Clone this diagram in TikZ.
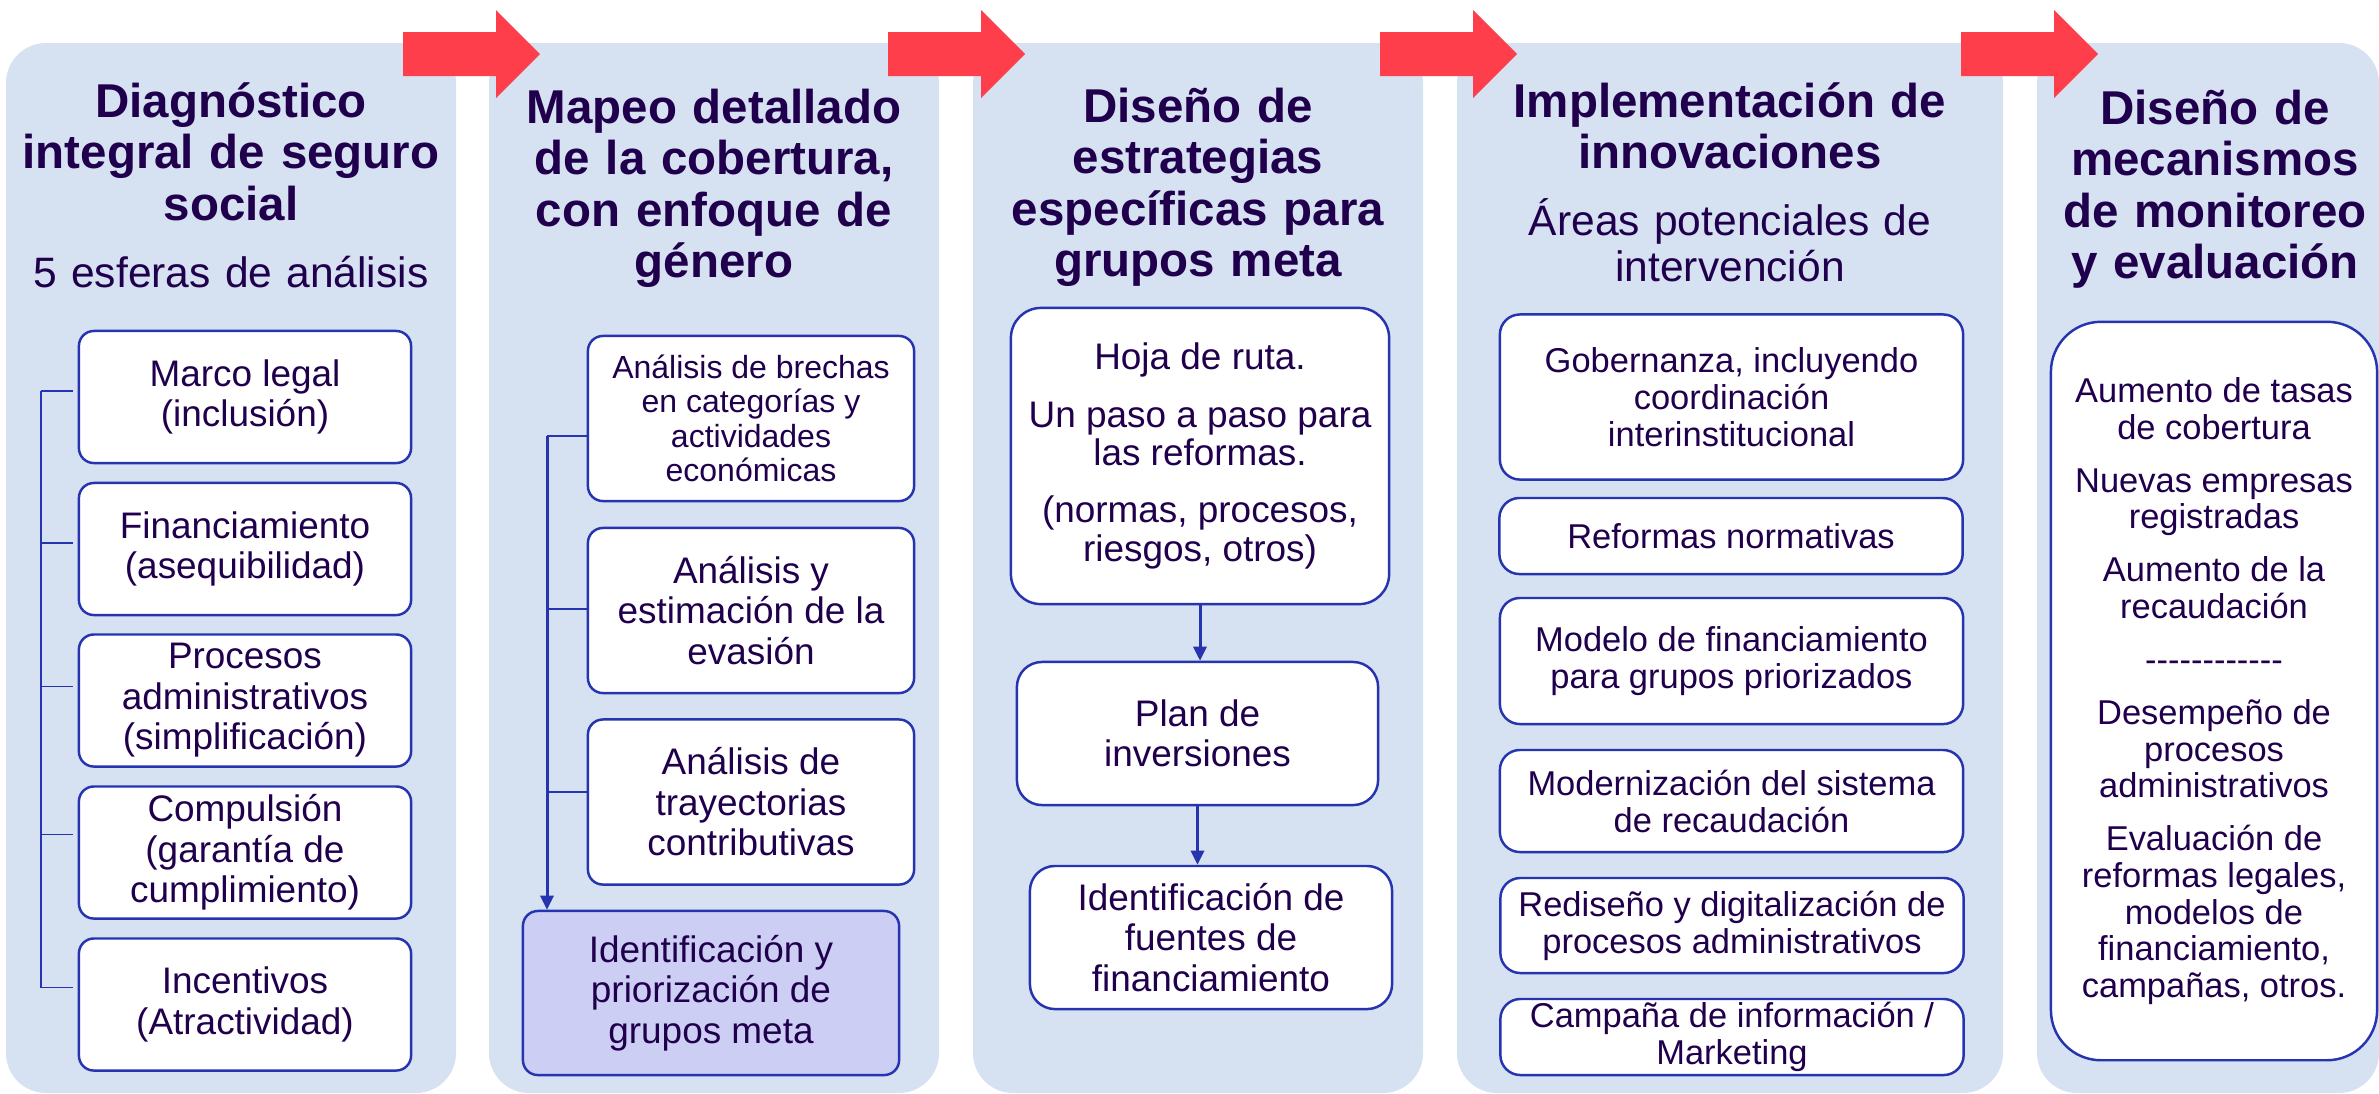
\documentclass[tikz,border=0pt]{standalone}
\usepackage{fontspec}
\setmainfont{Liberation Sans}
\usetikzlibrary{arrows.meta,positioning}

\definecolor{panelblue}{RGB}{214,225,241}
\definecolor{arrowred}{RGB}{254,62,74}
\definecolor{inkpurple}{RGB}{32,0,77}
\definecolor{lineblue}{RGB}{38,52,176}
\definecolor{lavender}{RGB}{204,206,244}

\newcommand{\dashrow}{\mbox{-}\mbox{-}\mbox{-}\mbox{-}\mbox{-}\mbox{-}\mbox{-}\mbox{-}\mbox{-}\mbox{-}\mbox{-}\mbox{-}}

\tikzset{
  panel/.style={fill=panelblue, rounded corners=0.4cm},
  redarrow/.style={fill=arrowred},
  heading/.style={anchor=base, align=center, inner sep=0pt, text=inkpurple,
    font=\fontsize{13.5}{14.65}\selectfont\bfseries},
  subheading/.style={anchor=base, align=center, inner sep=0pt, text=inkpurple,
    font=\fontsize{12.1}{13.1}\selectfont},
  itembox/.style={draw=lineblue, line width=0.7pt, fill=white, rounded corners=0.15cm,
    inner sep=0pt, align=center, text=inkpurple, font=\fontsize{10.5}{11.5}\selectfont},
  sphere/.style={itembox, minimum width=3.32cm, minimum height=1.32cm},
  mapbox/.style={itembox, minimum width=3.26cm, minimum height=1.65cm},
  areabox/.style={itembox, rounded corners=0.2cm, minimum width=4.63cm,
    font=\fontsize{9.8}{10.5}\selectfont},
  tick/.style={draw=lineblue, line width=0.45pt},
  flow/.style={draw=lineblue, line width=0.85pt, -{Triangle[width=0.13cm,length=0.14cm]}},
}

\begin{document}
\begin{tikzpicture}[x=0.01cm, y=-0.01cm]
\useasboundingbox (0,0) rectangle (2379,1093);

% columns
\fill[panel] (6,43) rectangle (456,1093);
\fill[panel] (489,43) rectangle (939,1093);
\fill[panel] (973,43) rectangle (1423,1093);
\fill[panel] (1457,43) rectangle (2003,1093);
\fill[panel] (2037,43) rectangle (2379,1093);

% red arrows between the columns
\foreach \x in {403,888,1380,1961}
  \fill[redarrow] (\x,32) -- ++(93,0) -- ++(0,-22) -- ++(44,44) -- ++(-44,44) -- ++(0,-22) -- ++(-93,0) -- cycle;

% column 1
\node[heading, text width=4.4cm] (t1) at (231,117) {Diagnóstico\\integral de seguro\\social};
\node[subheading, text width=4.4cm] (s1) at (231,287) {5 esferas de análisis};
\node[sphere] (legal) at (245,397) {Marco legal\\(inclusión)};
\node[sphere] (financ) at (245,549) {Financiamiento\\(asequibilidad)};
\node[sphere] (procesos) at (245,700.5) {Procesos\\administrativos\\(simplificación)};
\node[sphere] (compul) at (245,852.5) {Compulsión\\(garantía de\\cumplimiento)};
\node[sphere] (incent) at (245,1004.5) {Incentivos\\(Atractividad)};
\coordinate (spine1) at (41,0);
\foreach \b/\dy in {legal/-6,financ/-6,procesos/-14,compul/-18,incent/-17}
  \draw[tick] ([shift={(-5,\dy)}]\b.west) coordinate (t-\b) -- (t-\b -| spine1);
\draw[tick] (t-legal -| spine1) -- (t-incent -| spine1);

% column 2
\node[heading, text width=4.4cm] (t2) at (714,123) {Mapeo detallado\\de la cobertura,\\con enfoque de\\género};
\node[mapbox, font=\fontsize{9.1}{9.8}\selectfont] (brechas) at (751,418.5) {Análisis de brechas\\en categorías y\\actividades\\económicas};
\node[mapbox] (evasion) at (751,610.5) {Análisis y\\estimación de la\\evasión};
\node[mapbox] (trayect) at (751,802) {Análisis de\\trayectorias\\contributivas};
\node[itembox, fill=lavender, minimum width=3.76cm, minimum height=1.64cm] (grupos) at (711,993) {Identificación y\\priorización de\\grupos meta};
\coordinate (spine2) at (547,0);
\foreach \b/\dy in {brechas/17.5,evasion/-1.5,trayect/-10}
  \draw[tick] ([shift={(0,\dy)}]\b.west) coordinate (t-\b) -- (t-\b -| spine2);
\draw[flow] (t-brechas -| spine2) -- (spine2 |- grupos.north);

% column 3
\node[heading, text width=4.4cm] (t3) at (1198,122) {Diseño de\\estrategias\\específicas para\\grupos meta};
\node[itembox, rounded corners=0.3cm, minimum width=3.78cm, minimum height=2.96cm,
  font=\fontsize{10.5}{10.95}\selectfont] (hoja) at (1200,456)
  {Hoja de ruta.\\[5.3pt]Un paso a paso para\\las reformas.\\[5.3pt](normas, procesos,\\riesgos, otros)};
\node[itembox, rounded corners=0.25cm, minimum width=3.61cm, minimum height=1.43cm] (plan) at (1197.5,733.5) {Plan de\\inversiones};
\node[itembox, rounded corners=0.25cm, minimum width=3.62cm, minimum height=1.43cm] (fuentes) at (1211,937.5) {Identificación de\\fuentes de\\financiamiento};
\draw[flow] (hoja.south) -- (hoja.south |- plan.north);
\draw[flow] (plan.south) -- (plan.south |- fuentes.north);

% column 4
\node[heading, text width=5.3cm] (t4) at (1730,117) {Implementación de\\innovaciones};
\node[subheading, text width=5.3cm] (s4) at (1730,235) {Áreas potenciales de\\intervención};
\node[areabox, minimum height=1.65cm] (gobern) at (1731.5,397) {Gobernanza, incluyendo\\coordinación\\interinstitucional};
\node[areabox, minimum height=0.76cm] (normas) at (1731,536) {Reformas normativas};
\node[areabox, minimum height=1.26cm] (modelo) at (1731.5,661) {Modelo de financiamiento\\para grupos priorizados};
\node[areabox, minimum height=1.02cm] (recaud) at (1731.5,801) {Modernización del sistema\\de recaudación};
\node[areabox, minimum height=0.95cm] (digital) at (1732,925.5) {Rediseño y digitalización de\\procesos administrativos};
\node[areabox, minimum height=0.76cm] (campana) at (1732,1037) {Campaña de información /\\Marketing};

% column 5
\node[heading, text width=3.36cm] (t5) at (2215,124) {Diseño de\\mecanismos\\de monitoreo\\y evaluación};
\node[itembox, rounded corners=0.5cm, minimum width=3.26cm, minimum height=7.38cm,
  font=\fontsize{9.8}{10.4}\selectfont] (indic) at (2214,691)
  {Aumento de tasas\\de cobertura\\[4.7pt]Nuevas empresas\\registradas\\[4.7pt]Aumento de la\\recaudación\\[4.7pt]\dashrow\\[4.7pt]Desempeño de\\procesos\\administrativos\\[4.7pt]Evaluación de\\reformas legales,\\modelos de\\financiamiento,\\campañas, otros.};
\end{tikzpicture}
\end{document}
